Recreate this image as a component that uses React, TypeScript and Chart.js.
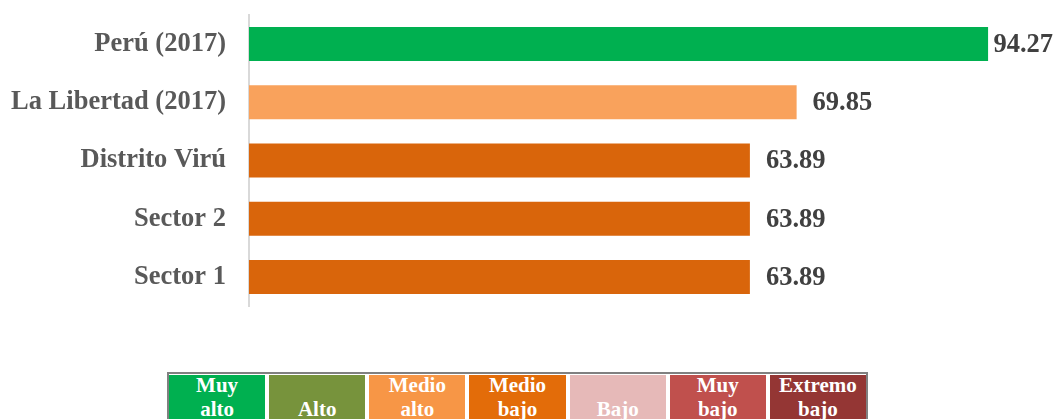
import React, { useEffect, useRef } from "react";
import { Chart, registerables } from "chart.js";

Chart.register(...registerables);

const categories = ["Perú (2017)", "La Libertad (2017)", "Distrito Virú", "Sector 2", "Sector 1"];
const values = [94.27, 69.85, 63.89, 63.89, 63.89];
const barColors = ["#00B050", "#F9A25C", "#D9650B", "#D9650B", "#D9650B"];

const legendTop = ["Muy", "", "Medio", "Medio", "", "Muy", "Extremo"];
const legendBottom = ["alto", "Alto", "alto", "bajo", "Bajo", "bajo", "bajo"];
const legendColors = ["#00B050", "#77933C", "#F79646", "#E36C09", "#E6B9B8", "#C0504D", "#943634"];

const FONT = "'Liberation Serif', 'Times New Roman', serif";

const valueLabelPlugin = {
  id: "valueLabels",
  afterDatasetsDraw(chart: any) {
    const ctx = chart.ctx;
    const meta = chart.getDatasetMeta(0);
    ctx.save();
    ctx.font = `bold 26.5px ${FONT}`;
    ctx.fillStyle = "#404040";
    ctx.textBaseline = "middle";
    ctx.textAlign = "left";
    meta.data.forEach((bar: any, i: number) => {
      const text = values[i].toFixed(2);
      const w = ctx.measureText(text).width;
      const x = Math.min(bar.x + 16, chart.width - 3 - w);
      ctx.fillText(text, x, bar.y + 1);
    });
    ctx.restore();
  },
};

export default function App() {
  const ref = useRef<HTMLCanvasElement | null>(null);

  useEffect(() => {
    if (!ref.current) return;
    const chart = new Chart(ref.current, {
      type: "bar",
      data: {
        labels: categories,
        datasets: [
          {
            data: values,
            backgroundColor: barColors,
            categoryPercentage: 1,
            barPercentage: 0.585,
          },
        ],
      },
      options: {
        indexAxis: "y",
        animation: false,
        responsive: false,
        layout: { padding: { top: 15, right: 23, bottom: 24, left: 0 } },
        plugins: { legend: { display: false }, tooltip: { enabled: false } },
        scales: {
          x: { display: false, min: 0, max: 100 },
          y: {
            afterFit: (scale: any) => {
              scale.width = 249;
              scale.paddingTop = 0;
              scale.paddingBottom = 0;
            },
            grid: { display: false, drawTicks: false },
            border: { display: true, color: "#D9D9D9", width: 2 },
            ticks: {
              color: "#595959",
              padding: 23,
              font: { family: FONT, size: 26.5, weight: "bold" },
            },
          },
        },
      },
      plugins: [valueLabelPlugin],
    });
    return () => chart.destroy();
  }, []);

  return (
    <div style={{ position: "fixed", left: 0, top: 0, width: 1056, height: 419, overflow: "hidden", background: "#fff" }}>
      <canvas ref={ref} width={1056} height={330} style={{ display: "block", width: 1056, height: 330 }} />
      <div
        style={{
          position: "absolute",
          left: 167,
          top: 372,
          width: 697,
          borderTop: "2px solid #808080",
          borderLeft: "2px solid #808080",
          borderRight: "2px solid #808080",
          display: "flex",
          gap: 4,
          paddingTop: 1,
          background: "#fff",
        }}
      >
        {legendColors.map((c, i) => (
          <div
            key={i}
            style={{
              flex: 1,
              background: c,
              color: "#fff",
              fontFamily: FONT,
              fontWeight: "bold",
              fontSize: 21,
              lineHeight: "24px",
              textAlign: "center",
              height: 60,
              overflow: "hidden",
            }}
          >
            <div style={{ marginTop: -2 }}>{legendTop[i] || "\u00a0"}</div>
            <div>{legendBottom[i]}</div>
          </div>
        ))}
      </div>
    </div>
  );
}
